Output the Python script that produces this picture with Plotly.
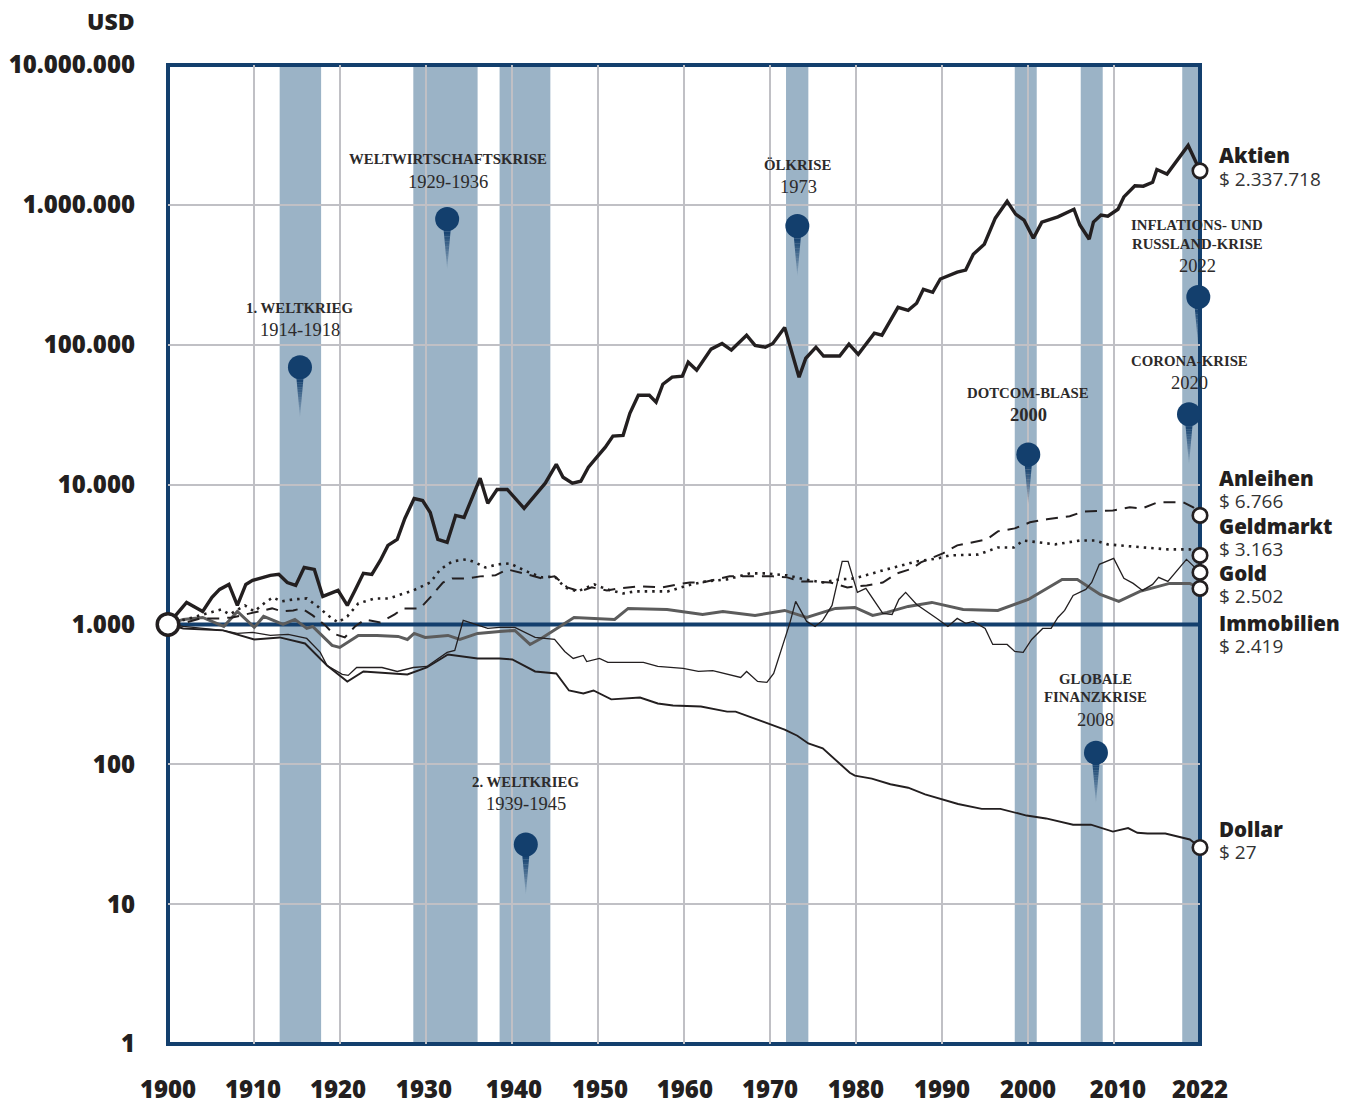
import math
import plotly.graph_objects as go

# ---- data -----------------------------------------------------------------------
stocks_years = [1900,1901.1,1902.2,1904.1,1905.2,1906.1,1907.2,1908.2,1909.2,1910,1911.1,1912.1,1913.1,1914.1,1915.1,1916.1,1917.3,1918.3,1920.1,1921.2,1922.1,1923.1,1924.1,1925.1,1926,1927.1,1928,1929.1,1930.1,1931,1931.9,1933,1933.6,1934,1935,1935.9,1936.9,1937.8,1938.9,1940.1,1942.1,1944.6,1945.9,1946.7,1947.8,1948.8,1949.7,1950.7,1951.7,1952.6,1953.8,1954.6,1955.6,1956.9,1957.7,1958.5,1959.6,1960.8,1961.5,1962.5,1964.2,1965.5,1966.6,1968.4,1969.4,1970.6,1971.5,1972.9,1974.6,1975.4,1976.6,1977.5,1979.4,1980.5,1981.6,1983.5,1984.4,1986.3,1987.5,1988.5,1989.3,1990.4,1991.3,1993.3,1994.3,1995.2,1996.5,1997.8,1999.2,2000.2,2001.2,2002.3,2003.3,2005.2,2007.1,2007.8,2008.9,2009.4,2010.3,2011.1,2012.3,2013,2014.3,2015.3,2016.4,2016.9,2018.1,2020.6,2022]
stocks_values = [1000,1199,1437,1239,1560,1780,1932,1367,1932,2064,2170,2242,2280,1995,1900,2554,2474,1585,1751,1367,1751,2318,2280,2868,3676,4054,5729,7943,7695,6310,4054,3860,5012,6020,5825,7943,11100,7343,9230,9230,6760,10230,13960,11280,10230,10560,13300,15700,18500,22200,22500,32300,43500,43500,38800,52200,58600,59600,75000,65800,93000,102000,91600,117000,99000,96000,102000,133000,58600,80000,96000,83000,83000,101000,85400,121000,117000,185000,176000,198000,249000,237000,295000,330000,342000,443000,523000,803000,1060000,859000,778000,577000,753000,820000,930000,718000,568000,753000,845000,830000,930000,1140000,1370000,1360000,1450000,1790000,1660000,2660000,1750000]

bonds_years = [1900,1901.8,1903.8,1906.1,1907.6,1911.5,1912.3,1913.5,1914.8,1915.8,1917.1,1918.6,1919.5,1920.9,1922.1,1923.3,1925.1,1926.8,1927.8,1929.8,1931,1932.5,1933.6,1935.5,1936.9,1938.7,1940.1,1942,1944.2,1945.7,1947.2,1948.7,1950.1,1951.9,1953.4,1955.6,1958.4,1960.2,1961.7,1963.2,1965,1966.4,1969.6,1971.5,1973.2,1974.7,1976.2,1978.3,1980.3,1982.6,1984.5,1986.2,1988,1989,1991.6,1993.3,1996.8,1998.1,2000.1,2001.9,2003.9,2006.6,2008.2,2011.7,2013.7,2015.2,2017,2020,2021.2,2022]
bonds_values = [1000,1017,1104,1104,1122,1259,1302,1239,1259,1302,1160,984,862,807,967,1086,1033,1179,1302,1302,1560,1995,2134,2134,2206,2242,2474,2318,2134,2206,1840,1723,1840,1751,1810,1870,1840,1932,1995,1995,2099,2206,2206,2206,2170,2030,2030,1995,1840,1900,1995,2318,2512,2778,3217,3676,4054,4630,4860,5370,5650,5930,6420,6530,6870,6760,7470,7470,6870,6020]

money_years = [1900,1904.1,1906.3,1907.3,1909.1,1910.2,1911.5,1912.4,1913.4,1914.8,1916.4,1917.7,1918.9,1920.1,1921.2,1922.5,1924.4,1926.1,1929,1931,1932.2,1933.6,1935.3,1936.3,1937.5,1939,1940.4,1942.4,1944.2,1945.7,1946.9,1948.4,1950.4,1951.9,1953.8,1955.2,1959.1,1961.4,1963.5,1966.1,1968.8,1970.6,1973.2,1975.3,1977.4,1979.4,1981.2,1984.5,1988.5,1991,1992.4,1995.8,1998.1,2000,2001.1,2004.9,2007.8,2009.6,2011.1,2015.3,2018.2,2020.8,2022]
money_values = [1000,1179,1280,1179,1367,1239,1437,1560,1461,1509,1534,1345,1160,1033,1141,1413,1534,1534,1751,1995,2474,2822,2920,2778,2554,2688,2732,2394,2170,2206,1840,1723,1932,1780,1666,1723,1723,1900,2030,2099,2318,2318,2242,2099,1995,2099,2134,2434,2822,2965,3115,3162,3552,3552,3981,3737,3981,3981,3737,3552,3440,3440,3115]

gold_years = [1900,1901.8,1906.5,1908.2,1910,1912.1,1914.2,1916.4,1918,1918.8,1920.6,1921.3,1922.3,1925.3,1927.1,1929,1930.6,1933,1933.9,1934.9,1937.8,1939.2,1941,1943.4,1945.7,1946.9,1947.9,1949.1,1949.5,1951,1952,1956.2,1957.9,1960.9,1962.7,1964.4,1967.7,1968.4,1969.7,1970.8,1971.6,1972.7,1973.5,1974.2,1975.5,1976.5,1977.4,1978.5,1979.7,1980.4,1981.5,1982.5,1984.5,1985.6,1986.4,1987.2,1988.5,1990.9,1992.2,1993.3,1994.3,1995.2,1996.6,1997.5,1999.2,2000.1,2001.1,2002.1,2003.4,2004.4,2005.2,2006,2007,2008.5,2009.2,2010.1,2011.8,2013,2014.1,2015.2,2016.4,2017.1,2018.2,2020.4,2022]
gold_values = [1000,967,906,862,877,834,848,794,631,509,439,432,492,492,461,492,501,631,652,1068,936,952,952,807,781,641,571,600,543,571,535,535,501,485,461,468,418,461,391,385,446,708,1017,1461,1051,967,1068,1367,2822,2822,1694,1810,1199,1179,1509,1694,1390,1104,967,1104,1017,1051,936,719,719,641,631,781,936,936,1122,1259,1613,1780,1995,2688,2965,2134,1965,1751,1932,2170,2030,2920,2356]

estate_years = [1900,1901.8,1904.1,1906.6,1908.2,1910.2,1911.3,1913.6,1915,1916.4,1917.1,1919.4,1920.3,1922.5,1924.7,1927.2,1928.3,1929.1,1930.4,1933.1,1934.5,1936.6,1939.2,1941,1942.8,1944.3,1948,1952.8,1954.4,1959,1963.2,1965.6,1969.4,1972.9,1975.5,1978.9,1981.2,1983.3,1985,1987.5,1990.3,1994,1998.1,2001.7,2005.7,2007.5,2010.2,2012.4,2014.9,2018.4,2020.8,2022]
estate_values = [1000,1086,1122,967,1239,952,1141,1000,1086,936,967,708,684,834,834,821,781,862,807,834,781,862,891,906,719,807,1122,1086,1302,1280,1179,1239,1160,1259,1122,1302,1323,1160,1219,1345,1437,1280,1259,1509,2099,2099,1639,1461,1723,1965,1965,1810]

dollar_years = [1900,1901.8,1906.5,1910.2,1913.2,1916.2,1918.8,1921.2,1923.1,1928.3,1930.6,1933.1,1936.6,1939.2,1940.7,1943.4,1945.9,1947.4,1949.1,1950.3,1952.4,1955.8,1957.9,1959.7,1963,1966.1,1967.1,1970.9,1972.9,1974.4,1975.7,1977.4,1980.6,1981.2,1983.2,1985.4,1987.5,1989.5,1991.5,1993.4,1996.2,1998.4,2001.5,2003.8,2007,2009.1,2011.7,2013.5,2014.6,2015.8,2017.9,2020.8,2022]
dollar_values = [1000,936,906,781,807,731,509,391,461,439,492,610,571,571,562,461,446,337,321,337,291,300,272,263,259,238,238,196,177,160,141,130,87,83,79,72,68,61,56,52,48,48,43,41,37,37,33,35,32.4,32,32,29,25.4]

series_names = ["Aktien", "Anleihen", "Geldmarkt", "Gold", "Immobilien", "Dollar"]
series_amounts = ["$ 2.337.718", "$ 6.766", "$ 3.163", "$ 2.502", "$ 2.419", "$ 27"]

crisis_starts = [1913.2, 1929.0, 1939.2, 1973.06, 2000.1, 2007.9, 2019.9]
crisis_ends = [1918.1, 1936.6, 1945.2, 1975.7, 2002.7, 2010.5, 2022.0]

pin_years = [1915.6, 1933.0, 1942.3, 1974.4, 2001.7, 2009.7, 2020.7, 2021.8]
pin_values = [69000, 791000, 26.7, 705000, 16400, 121, 31800, 219000]
pin_titles = [["1. WELTKRIEG"], ["WELTWIRTSCHAFTSKRISE"], ["2. WELTKRIEG"], ["ÖLKRISE"], ["DOTCOM-BLASE"],
              ["GLOBALE", "FINANZKRISE"], ["CORONA-KRISE"], ["INFLATIONS- UND", "RUSSLAND-KRISE"]]
pin_dates = ["1914-1918", "1929-1936", "1939-1945", "1973", "2000", "2008", "2020", "2022"]

y_ticks = [1, 10, 100, 1000, 10000, 100000, 1000000, 10000000]
y_labels = ["1", "10", "100", "1.000", "10.000", "100.000", "1.000.000", "10.000.000"]
grid_years = [1910.17, 1920.33, 1930.5, 1940.67, 1950.83, 1961, 1971.17, 1981.33, 1991.5, 2001.67, 2011.83]
label_years = [1900, 1910.05, 1920.1, 1930.26, 1940.9, 1951.07, 1961.1, 1971.17, 1981.33, 1991.5, 2001.67, 2012.3, 2022]
x_labels = ["1900", "1910", "1920", "1930", "1940", "1950", "1960", "1970", "1980", "1990", "2000", "2010", "2022"]

# ---- styling -------------------------------------------------------------------
NAVY, BAND, GRID, INK = "#133f6d", "#9bb3c6", "#c0c0c5", "#231f20"
SANS, SERIF = "Open Sans", "Liberation Serif"
# the page body adds an 8 px margin, so the figure is 8 px smaller and the plot sits 8 px higher and further left
W, H = 1346, 1093
L, R, T, B = 160, 1192, 57, 1036

fig = go.Figure()
fig.add_trace(go.Scatter(x=[1900, 2022], y=[1000, 1000], mode="lines", line=dict(color=NAVY, width=4),
                         hoverinfo="skip", cliponaxis=False))
styles = [
    (stocks_years, stocks_values, dict(color=INK, width=3.4), "Aktien"),
    (estate_years, estate_values, dict(color="#5c5c5c", width=3), "Immobilien"),
    (gold_years, gold_values, dict(color=INK, width=1.3), "Gold"),
    (dollar_years, dollar_values, dict(color=INK, width=1.9), "Dollar"),
    (bonds_years, bonds_values, dict(color=INK, width=2, dash="12px,8px"), "Anleihen"),
    (money_years, money_values, dict(color=INK, width=2.6, dash="2.5px,5px"), "Geldmarkt"),
]
for xs, ys, line, name in styles:
    fig.add_trace(go.Scatter(x=xs, y=ys, mode="lines", line=line, name=name, hoverinfo="skip", cliponaxis=False))

ends = [bonds_values[-1], money_values[-1], gold_values[-1], estate_values[-1], stocks_values[-1], dollar_values[-1]]
fig.add_trace(go.Scatter(x=[2022] * len(ends), y=ends, mode="markers", cliponaxis=False, hoverinfo="skip",
                         marker=dict(size=14.5, color="white", line=dict(color=INK, width=2.6))))
fig.add_trace(go.Scatter(x=[1900], y=[1000], mode="markers", cliponaxis=False, hoverinfo="skip",
                         marker=dict(size=21.5, color="white", line=dict(color=INK, width=3.5))))
fig.add_trace(go.Scatter(x=pin_years, y=pin_values, mode="markers", cliponaxis=False, hoverinfo="skip",
                         marker=dict(size=24, color=NAVY)))

shapes = []
for a, b in zip(crisis_starts, crisis_ends):
    shapes.append(dict(type="rect", layer="below", xref="x", yref="paper", x0=a, x1=b, y0=0, y1=1,
                       fillcolor=BAND, line_width=0))
shapes.append(dict(type="rect", layer="between", xref="paper", yref="paper", x0=0, x1=1, y0=0, y1=1,
                   line=dict(color=NAVY, width=4)))
# pin tails: tapered slices that fade out downwards
n = 16
for px, pv in zip(pin_years, pin_values):
    for i in range(n):
        t0, t1 = i / n, (i + 1) / n
        y0, y1 = -10 - 40 * t0, -10 - 40 * t1
        w0, w1 = 3.6 * (1 - t0), 3.6 * (1 - t1)
        shapes.append(dict(type="path", layer="above", xref="x", yref="y", xsizemode="pixel", ysizemode="pixel",
                           xanchor=px, yanchor=pv,
                           path=f"M{-w0},{y0} L{w0},{y0} L{w1},{y1} L{-w1},{y1} Z",
                           fillcolor=NAVY, opacity=1 - t0 * 0.95, line_width=0))

annotations = []
def note(x, value, text, shift, size, family, color=INK, anchor="center", xshift=0, weight=None):
    annotations.append(dict(x=x, y=math.log10(value), xref="x", yref="y", text=text, showarrow=False,
                            xanchor=anchor, yanchor="middle", yshift=shift, xshift=xshift,
                            font=dict(size=size, family=family, color=color, weight=weight)))

title_shifts = [[59], [60], [62], [61], [62], [74, 56], [53], [72, 53]]
date_shifts = [37, 37, 40, 39, 40, 33, 31, 31]
text_xshift = [0, 1, 0, 1, 0, 0, 0, -1]
for i in range(len(pin_years)):
    for line, sh in zip(pin_titles[i], title_shifts[i]):
        note(pin_years[i], pin_values[i], line, sh, 14.8, SERIF, xshift=text_xshift[i], weight=700, color="#2c2a2a")
    note(pin_years[i], pin_values[i], pin_dates[i], date_shifts[i], 18.5, SERIF, xshift=text_xshift[i],
         weight=700 if pin_dates[i] == "2000" else 400, color="#2c2a2a")

series_ends = [stocks_values[-1], bonds_values[-1], money_values[-1], gold_values[-1], estate_values[-1], dollar_values[-1]]
name_shifts = [16, 37, 29, -1, -35, 19]
amount_shifts = [-8, 14, 6, -24, -58, -4]
for nm, am, v, s1, s2 in zip(series_names, series_amounts, series_ends, name_shifts, amount_shifts):
    note(2022, v, nm, s1, 20.5, SANS, anchor="left", xshift=17, weight=800)
    note(2022, v, am, s2, 19, SANS, anchor="left", xshift=17, color="#333333")
annotations.append(dict(x=(129 - L) / (R - L), y=(B - 13) / (B - T), xref="paper", yref="paper", text="USD",
                        showarrow=False, xanchor="right", yanchor="middle",
                        font=dict(size=23, family=SANS, color=INK, weight=800)))

fig.update_layout(
    width=W, height=H, autosize=False, showlegend=False,
    margin=dict(l=L, r=W - R, t=T, b=H - B, pad=0),
    paper_bgcolor="white", plot_bgcolor="white",
    shapes=shapes, annotations=annotations,
    xaxis=dict(type="linear", range=[1900, 2022], tickmode="array", tickvals=label_years, ticktext=x_labels,
               showgrid=False, zeroline=False, showline=False, ticks="", ticklabelstandoff=29, automargin=False,
               tickfont=dict(size=24, family=SANS, color=INK, weight=800),
               minor=dict(tickmode="array", tickvals=grid_years, showgrid=True, gridcolor=GRID, gridwidth=2, ticks="")),
    yaxis=dict(type="log", range=[0, 7], tickmode="array", tickvals=y_ticks, ticktext=y_labels,
               showgrid=True, gridcolor=GRID, gridwidth=2, zeroline=False, showline=False, ticks="", ticklabelstandoff=32,
               automargin=False, tickfont=dict(size=24, family=SANS, color=INK, weight=800)),
)
fig.write_html("out.html")
